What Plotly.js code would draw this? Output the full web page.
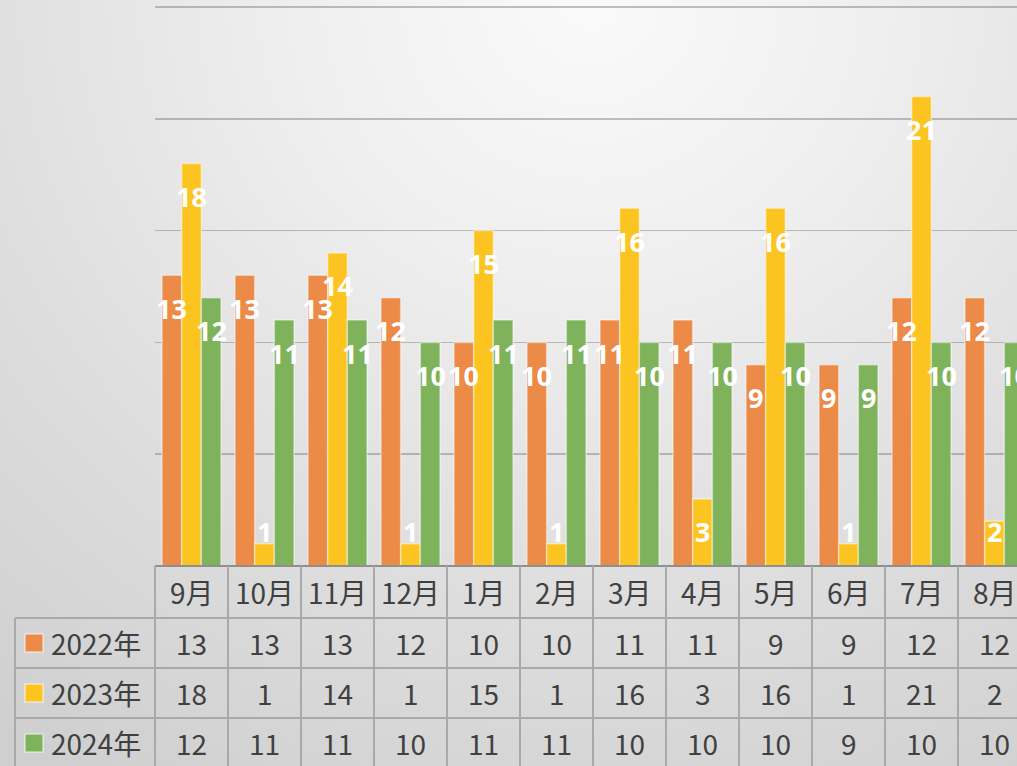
<!DOCTYPE html>
<html><head><meta charset="utf-8">
<script src="https://cdn.plot.ly/plotly-3.0.1.min.js"></script>
<style>
html,body{margin:0;padding:0;overflow:hidden;width:1017px;height:766px;}
body{background: radial-gradient(ellipse 95% 120% at 58% 0%, #fafafa 0%, #efefef 30%, #dedede 65%, #cfcfcf 100%);}
#chart{width:1040px;height:766px;}
</style></head><body><div id="chart"></div>
<script>
const months = ['9月','10月','11月','12月','1月','2月','3月','4月','5月','6月','7月','8月'];
const seriesNames = ['2022年','2023年','2024年'];
const v2022 = [13,13,13,12,10,10,11,11,9,9,12,12];
const v2023 = [18,1,14,1,15,1,16,3,16,1,21,2];
const v2024 = [12,11,11,10,11,11,10,10,10,9,10,10];
const seriesValues = [v2022, v2023, v2024];
const colors = ['#EC8A48','#FBC421','#7EB35C'];

const W = 1040, H = 766;
const M = {l:155, r:9, t:0, b:200};
const PW = W - M.l - M.r, PH = H - M.t - M.b;
const unitPx = 22.36;
const bargap = 0.192;
const catW = PW / months.length;
const barW = catW * (1 - bargap) / 3;

function px2x(px){ return (px - M.l) / PW; }
function px2y(py){ return (M.t + PH - py) / PH; }

const traces = seriesNames.map((n, s) => ({
  type:'bar', name:n, x:months, y:seriesValues[s],
  marker:{color:colors[s], line:{color:'rgba(255,255,255,0.45)', width:1.5}},
  hoverinfo:'skip'
}));

const annotations = [];
// data labels
seriesValues.forEach((vals, s) => {
  vals.forEach((v, i) => {
    annotations.push({x:months[i], y:Math.max(v,3), xref:'x', yref:'y', text:String(v),
      showarrow:false, xshift:(s-1)*barW, yshift:-33, yanchor:'middle',
      font:{family:'Noto Sans, DejaVu Sans, sans-serif', size:27, color:'#ffffff', weight:'bold'}});
  });
});

// table geometry (pixel rows)
const rowTops = [566, 618, 668, 718, 768];
const tblFont = {family:'Noto Sans CJK JP, Noto Sans, sans-serif', size:28, color:'#404040'};
// header labels
months.forEach((m, i) => {
  annotations.push({x:m, xref:'x', yref:'paper', y:px2y((rowTops[0]+rowTops[1])/2), text:m,
    showarrow:false, yanchor:'middle', font:tblFont});
});
seriesValues.forEach((vals, s) => {
  const yc = px2y((rowTops[s+1]+rowTops[s+2])/2);
  vals.forEach((v, i) => {
    annotations.push({x:months[i], xref:'x', yref:'paper', y:yc, text:String(v),
      showarrow:false, yanchor:'middle', font:tblFont});
  });
  annotations.push({x:px2x(49), xref:'paper', yref:'paper', y:yc, text:seriesNames[s],
    showarrow:false, xanchor:'left', yanchor:'middle', font:tblFont});
});

const shapes = [];
const lineStyle = {color:'#A9A9A9', width:2};
// horizontal lines
shapes.push({type:'line', xref:'paper', yref:'paper', x0:0, x1:1.2, y0:px2y(rowTops[0]), y1:px2y(rowTops[0]), line:{color:'#8f8f8f', width:2}});
for (let r = 1; r < rowTops.length; r++) {
  shapes.push({type:'line', xref:'paper', yref:'paper', x0:px2x(15), x1:1.2, y0:px2y(rowTops[r]), y1:px2y(rowTops[r]), line:lineStyle});
}
// vertical lines
shapes.push({type:'line', xref:'paper', yref:'paper', x0:px2x(15), x1:px2x(15), y0:px2y(rowTops[1]), y1:px2y(rowTops[4]), line:lineStyle});
for (let i = 0; i <= months.length; i++) {
  const xp = i / months.length;
  shapes.push({type:'line', xref:'paper', yref:'paper', x0:xp, x1:xp, y0:px2y(rowTops[0]), y1:px2y(rowTops[4]), line:lineStyle});
}
// legend keys
colors.forEach((c, s) => {
  const yc = (rowTops[s+1]+rowTops[s+2])/2;
  shapes.push({type:'rect', xref:'paper', yref:'paper', x0:px2x(25), x1:px2x(43), y0:px2y(yc-9), y1:px2y(yc+9),
    fillcolor:c, line:{color:'rgba(255,255,255,0.55)', width:1.5}});
});

const layout = {
  width:W, height:H, margin:M,
  paper_bgcolor:'rgba(0,0,0,0)', plot_bgcolor:'rgba(0,0,0,0)',
  barmode:'group', bargap:bargap, bargroupgap:0,
  showlegend:false,
  xaxis:{type:'category', range:[-0.5, months.length-0.5], showticklabels:false, showgrid:false, zeroline:false, showline:false, fixedrange:true},
  yaxis:{range:[0, PH/unitPx], dtick:5, tick0:0, showticklabels:false, showgrid:true, gridcolor:'rgba(110,110,110,0.42)', gridwidth:1.5, zeroline:false, showline:false, fixedrange:true},
  annotations:annotations, shapes:shapes
};
Plotly.newPlot('chart', traces, layout, {staticPlot:true, displayModeBar:false});
</script></body></html>
